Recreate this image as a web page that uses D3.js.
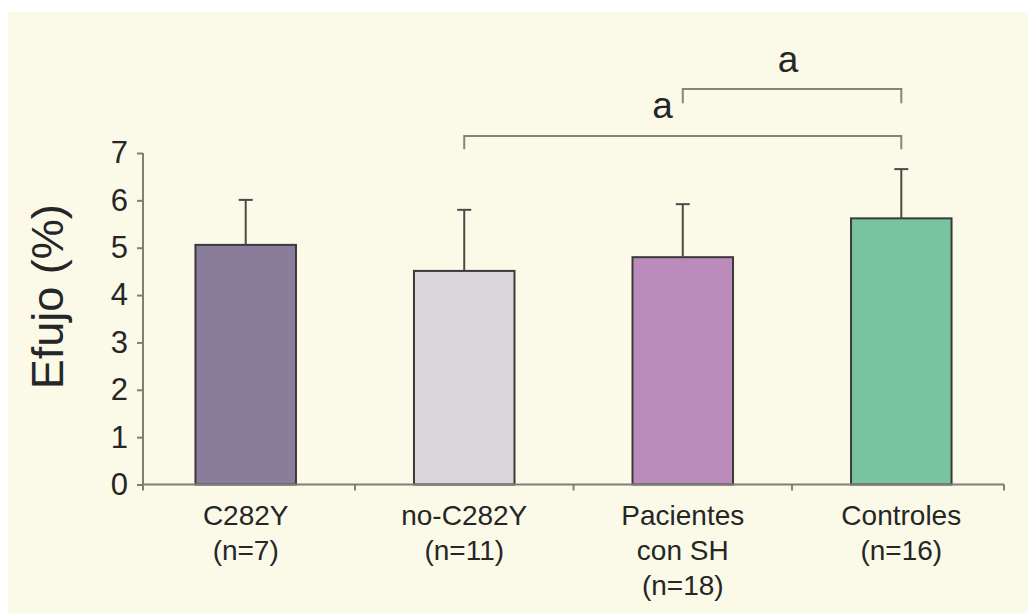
<!DOCTYPE html>
<html><head><meta charset="utf-8">
<script src="https://cdn.jsdelivr.net/npm/d3@7"></script>
<style>html,body{margin:0;padding:0;background:#fff;} svg{display:block;}</style>
</head><body><svg id="c" width="1028" height="613"></svg>
<script>
const categories = ["C282Y", "no-C282Y", "Pacientes con SH", "Controles"];
const labelLines = [["C282Y","(n=7)"],["no-C282Y","(n=11)"],["Pacientes","con SH","(n=18)"],["Controles","(n=16)"]];
const means = [5.06, 4.51, 4.80, 5.62];
const sds = [0.95, 1.29, 1.12, 1.04];
const colors = ["#8a7d9c", "#dad5da", "#bb8cbb", "#79c4a0"];
const yTicks = [0,1,2,3,4,5,6,7];
const brackets = [
  {from:"no-C282Y", to:"Controles", level:7.36, drop:0.28, label:"a", labelAt:"left"},
  {from:"Pacientes con SH", to:"Controles", level:8.35, drop:0.30, label:"a", labelAt:"top"}
];

const svg = d3.select("#c");
svg.append("rect").attr("x",8).attr("y",12).attr("width",1020).attr("height",601).attr("fill","#fbfae8");

const x = d3.scaleBand().domain(categories).range([143,1004]).paddingInner(0.54).paddingOuter(0.24);
const y = d3.scaleLinear().domain([0,7]).range([484.5,153]);
const axisColor = "#7f7f76";
const font = "'Liberation Sans', Arial, sans-serif";
const txt = "#262626";

// bars
const g = svg.append("g");
g.selectAll("rect.bar").data(categories).enter().append("rect")
  .attr("x", d=>x(d)).attr("width", x.bandwidth())
  .attr("y", (d,i)=>y(means[i])).attr("height",(d,i)=>y(0)-y(means[i]))
  .attr("fill",(d,i)=>colors[i]).attr("stroke","#3a3a3a").attr("stroke-width",2);

// error bars
const cx = d => x(d) + x.bandwidth()/2;
g.selectAll("line.err").data(categories).enter().append("line")
  .attr("x1",cx).attr("x2",cx).attr("y1",(d,i)=>y(means[i])).attr("y2",(d,i)=>y(means[i]+sds[i]))
  .attr("stroke","#4a4a4a").attr("stroke-width",2);
g.selectAll("line.cap").data(categories).enter().append("line")
  .attr("x1",d=>cx(d)-7).attr("x2",d=>cx(d)+7).attr("y1",(d,i)=>y(means[i]+sds[i])).attr("y2",(d,i)=>y(means[i]+sds[i]))
  .attr("stroke","#4a4a4a").attr("stroke-width",2);

// y axis
const ya = svg.append("g").attr("transform","translate(143,0)")
  .call(d3.axisLeft(y).tickValues(yTicks).tickSize(6).tickPadding(9).tickFormat(d3.format("d")));
ya.select(".domain").attr("stroke",axisColor).attr("stroke-width",2).attr("d",`M0,${y(7)}V${y(0)}`);
ya.selectAll(".tick line").attr("stroke",axisColor).attr("stroke-width",2);
ya.selectAll(".tick text").attr("font-family",font).attr("font-size",31).attr("fill",txt);

// x axis
const step = x.step();
const bounds = [143].concat(categories.slice(1).map(d=>x(d) - x.paddingInner()*step/2)).concat([1004]);
svg.append("line").attr("x1",143).attr("x2",1004).attr("y1",y(0)).attr("y2",y(0)).attr("stroke",axisColor).attr("stroke-width",2);
svg.selectAll("line.xt").data(bounds).enter().append("line")
  .attr("x1",d=>d).attr("x2",d=>d).attr("y1",y(0)).attr("y2",y(0)+6).attr("stroke",axisColor).attr("stroke-width",2);

// category labels
categories.forEach((c,i)=>{
  const t = svg.append("text").attr("x",cx(c)).attr("y",525).attr("text-anchor","middle")
    .attr("font-family",font).attr("font-size",28).attr("fill",txt);
  labelLines[i].forEach((l,j)=>{
    t.append("tspan").attr("x",cx(c)).attr("dy", j===0?0:35).text(l);
  });
});

// y title
svg.append("text").attr("transform",`translate(63,${(y(0)+y(7))/2 - 22}) rotate(-90)`)
  .attr("text-anchor","middle").attr("font-family",font).attr("font-size",45).attr("fill",txt).text("Efujo (%)");

// brackets
brackets.forEach(b=>{
  const x1 = cx(b.from), x2 = cx(b.to);
  const yl = y(b.level), yd = y(b.level - b.drop);
  svg.append("path").attr("d",`M${x1},${yd}V${yl}H${x2}V${yd}`)
    .attr("fill","none").attr("stroke","#858580").attr("stroke-width",2);
  if (b.labelAt==="top") {
    svg.append("text").attr("x",(x1+x2)/2 - 4).attr("y",yl-17).attr("text-anchor","middle")
      .attr("font-family",font).attr("font-size",37).attr("fill",txt).text(b.label);
  }
});
// label for lower bracket sits left of the upper bracket's start
{
  const b = brackets[0], u = brackets[1];
  svg.append("text").attr("x",cx(u.from)-10).attr("y",y(b.level)-18).attr("text-anchor","end")
    .attr("font-family",font).attr("font-size",37).attr("fill",txt).text(b.label);
}
</script></body></html>
